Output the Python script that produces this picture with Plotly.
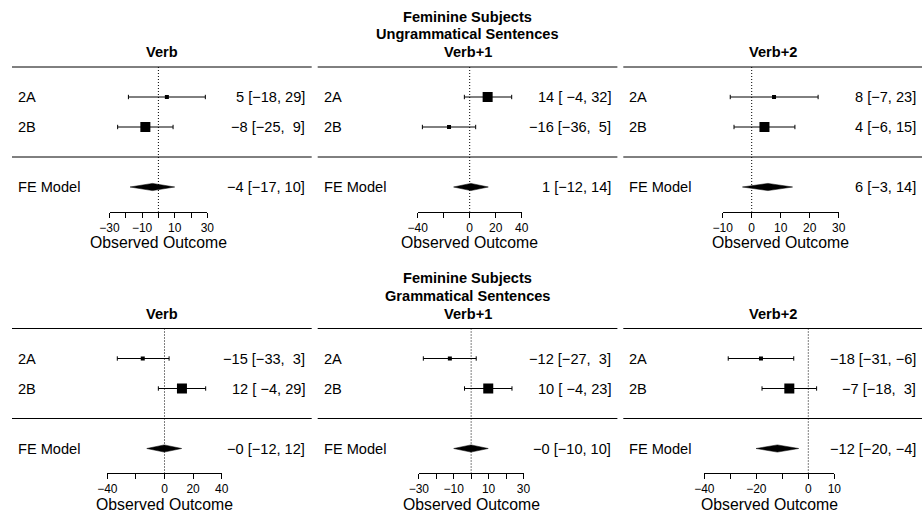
import plotly.graph_objects as go

W, H = 922, 515
FONT = "Liberation Sans, Arial, Helvetica, sans-serif"

# ---------------- data ----------------
study_labels = ["2A", "2B"]
model_label = "FE Model"
col_titles = ["Verb", "Verb+1", "Verb+2"]
row_titles = [["Feminine Subjects", "Ungrammatical Sentences"],
              ["Feminine Subjects", "Grammatical Sentences"]]
xlab = "Observed Outcome"

# per panel (row-major): study estimates and 95% CI bounds
est = [[5.2, -8.0], [13.8, -15.9], [7.7, 4.4],
       [-15.2, 12.2], [-12.2, 9.8], [-18.2, -7.3]]
ci_lb = [[-18.4, -25.0], [-4.1, -36.4], [-7.4, -6.1],
         [-33.0, -4.3], [-27.4, -3.8], [-30.8, -17.8]]
ci_ub = [[28.8, 9.0], [32.3, 4.6], [22.9, 14.9],
         [3.2, 28.8], [2.9, 23.4], [-5.6, 3.2]]
# fixed-effect model summaries
fe_est = [-3.6, 0.9, 5.6, -0.2, -0.1, -11.9]
fe_lb = [-17.4, -12.4, -3.2, -12.4, -10.0, -20.1]
fe_ub = [10.0, 14.3, 14.1, 12.0, 9.8, -3.7]

tick_vals = [[-30, -20, -10, 0, 10, 20, 30],
             [-40, -20, 0, 20, 40],
             [-10, 0, 10, 20, 30],
             [-40, -20, 0, 20, 40],
             [-30, -20, -10, 0, 10, 20, 30],
             [-40, -30, -20, -10, 0, 10]]
tick_text = [["−30", "", "−10", "", "10", "", "30"],
             ["−40", "", "0", "20", "40"],
             ["−10", "0", "10", "20", "30"],
             ["−40", "", "0", "20", "40"],
             ["−30", "", "−10", "", "10", "", "30"],
             ["−40", "", "−20", "", "0", "10"]]

# ---------------- layout geometry (pixels) ----------------
col_left = [12, 317.7, 623.3]
line_len = 299.7
axis_px = [(109.5, 207.3), (417.7, 521.7), (722.7, 838.7),
           (107.3, 221.7), (418.8, 523.5), (704.3, 834.3)]
row_zero_px = [157.0, 418.5]     # pixel y of separator between studies and model
row_band_px = [(0.0, 257.5), (257.5, 515.0)]
row_h = 30.0
axis_line_px = [211.7, 473.0]
study_rows = [2, 1]
fe_row = -1
top_row = 3
cap = 2.2 / row_h
dia_h = 3.6 / row_h


def fmt(v):
    return f"{v:.0f}"


def label_strings(p):
    e = [fmt(v) for v in est[p]] + [fmt(fe_est[p])]
    lo = [fmt(v) for v in ci_lb[p]] + [fmt(fe_lb[p])]
    hi = [fmt(v) for v in ci_ub[p]] + [fmt(fe_ub[p])]
    wl = max(len(s) for s in lo)
    wh = max(len(s) for s in hi)
    out = []
    for a, b, c in zip(e, lo, hi):
        b = "\u00a0" * (wl - len(b)) + b
        c = "\u00a0" * (wh - len(c)) + c
        out.append(f"{a} [{b}, {c}]".replace("-", "−"))
    return out


fig = go.Figure()
annotations = []
shapes = []
layout_axes = {}

for p in range(6):
    r, c = divmod(p, 3)
    xa = f"x{p + 1}" if p else "x"
    ya = f"y{p + 1}" if p else "y"
    xname = f"xaxis{p + 1}" if p else "xaxis"
    yname = f"yaxis{p + 1}" if p else "yaxis"
    y0 = row_zero_px[r]
    b0, b1 = row_band_px[r]
    axis_row = (y0 - axis_line_px[r]) / row_h

    px0, px1 = axis_px[p]
    layout_axes[xname] = dict(
        domain=[px0 / W, px1 / W], range=[tick_vals[p][0], tick_vals[p][-1]],
        tickvals=tick_vals[p], ticktext=tick_text[p], ticks="outside",
        ticklen=5, tickwidth=1, tickcolor="black", showline=True,
        linecolor="black", linewidth=1, showgrid=False, zeroline=False,
        anchor="free", position=1 - axis_line_px[r] / H, automargin=False,
        tickfont=dict(family=FONT, size=12, color="black"), fixedrange=True,
    )
    layout_axes[yname] = dict(
        domain=[1 - b1 / H, 1 - b0 / H],
        range=[(y0 - b1) / row_h, (y0 - b0) / row_h], visible=False,
        anchor=xa, fixedrange=True, automargin=False,
    )

    # study CIs
    xs, ys = [], []
    for i, rr in enumerate(study_rows):
        lb, ub = ci_lb[p][i], ci_ub[p][i]
        xs += [lb, ub, None, lb, lb, None, ub, ub, None]
        ys += [rr, rr, None, rr - cap, rr + cap, None, rr - cap, rr + cap, None]
    fig.add_trace(go.Scatter(x=xs, y=ys, mode="lines", xaxis=xa, yaxis=ya,
                             line=dict(color="black", width=1),
                             hoverinfo="skip", showlegend=False))
    # squares sized by inverse-variance weight
    w = [1.0 / ((ci_ub[p][i] - ci_lb[p][i]) / 3.92) ** 2 for i in range(2)]
    wmin, wmax = min(w), max(w)
    sizes = [4 + 6 * ((wi - wmin) / (wmax - wmin) if wmax > wmin else 1) for wi in w]
    fig.add_trace(go.Scatter(x=est[p], y=study_rows, mode="markers", xaxis=xa, yaxis=ya,
                             marker=dict(symbol="square", size=sizes, color="black",
                                         opacity=1, line=dict(width=0)),
                             hoverinfo="skip", showlegend=False))
    # FE diamond
    fig.add_trace(go.Scatter(
        x=[fe_lb[p], fe_est[p], fe_ub[p], fe_est[p], fe_lb[p]],
        y=[fe_row, fe_row + dia_h, fe_row, fe_row - dia_h, fe_row],
        mode="lines", fill="toself", fillcolor="black",
        line=dict(color="black", width=0.5), xaxis=xa, yaxis=ya,
        hoverinfo="skip", showlegend=False))

    # reference line at 0
    shapes.append(dict(type="line", xref=xa, yref=ya, x0=0, x1=0,
                       y0=top_row, y1=axis_row,
                       line=dict(color="black", width=1, dash="1px,2px")))
    # separators
    for yy in (top_row, 0):
        shapes.append(dict(type="line", xref="paper", yref=ya,
                           x0=col_left[c] / W, x1=(col_left[c] + line_len) / W,
                           y0=yy, y1=yy, line=dict(color="black", width=1)))

    # left labels and right text
    labs = study_labels + [model_label]
    rows = study_rows + [fe_row]
    rtxt = label_strings(p)
    for lab, rr, t in zip(labs, rows, rtxt):
        annotations.append(dict(text=lab, xref="paper", yref=ya,
                                x=(col_left[c] + 4) / W, y=rr, xanchor="left",
                                yanchor="middle", showarrow=False,
                                font=dict(family=FONT, size=14.6, color="black")))
        annotations.append(dict(text=t, xref="paper", yref=ya,
                                x=(col_left[c] + 295) / W, y=rr, xanchor="right",
                                yanchor="middle", showarrow=False,
                                font=dict(family=FONT, size=14.6, color="black")))
    # x label
    annotations.append(dict(text=xlab, xref=f"{xa} domain", yref="paper",
                            x=0.5, y=1 - (axis_line_px[r] + 31.2) / H,
                            xanchor="center", yanchor="middle", showarrow=False,
                            font=dict(family=FONT, size=15.8, color="black")))
    # column title
    title_lines = [col_titles[c]]
    if c == 1:
        title_lines = row_titles[r] + title_lines
    ty = row_zero_px[r] - 105.0
    for k, tl in enumerate(reversed(title_lines)):
        annotations.append(dict(text=f"<b>{tl}</b>", xref="paper", yref="paper",
                                x=(col_left[c] + line_len / 2) / W,
                                y=1 - (ty - 17.6 * k) / H,
                                xanchor="center", yanchor="middle", showarrow=False,
                                font=dict(family=FONT, size=14.6, color="black")))

fig.update_layout(
    width=W, height=H, margin=dict(l=0, r=0, t=0, b=0, pad=0, autoexpand=False),
    paper_bgcolor="white", plot_bgcolor="rgba(0,0,0,0)", showlegend=False,
    annotations=annotations, shapes=shapes, **layout_axes,
)
fig.write_html("out.html")
